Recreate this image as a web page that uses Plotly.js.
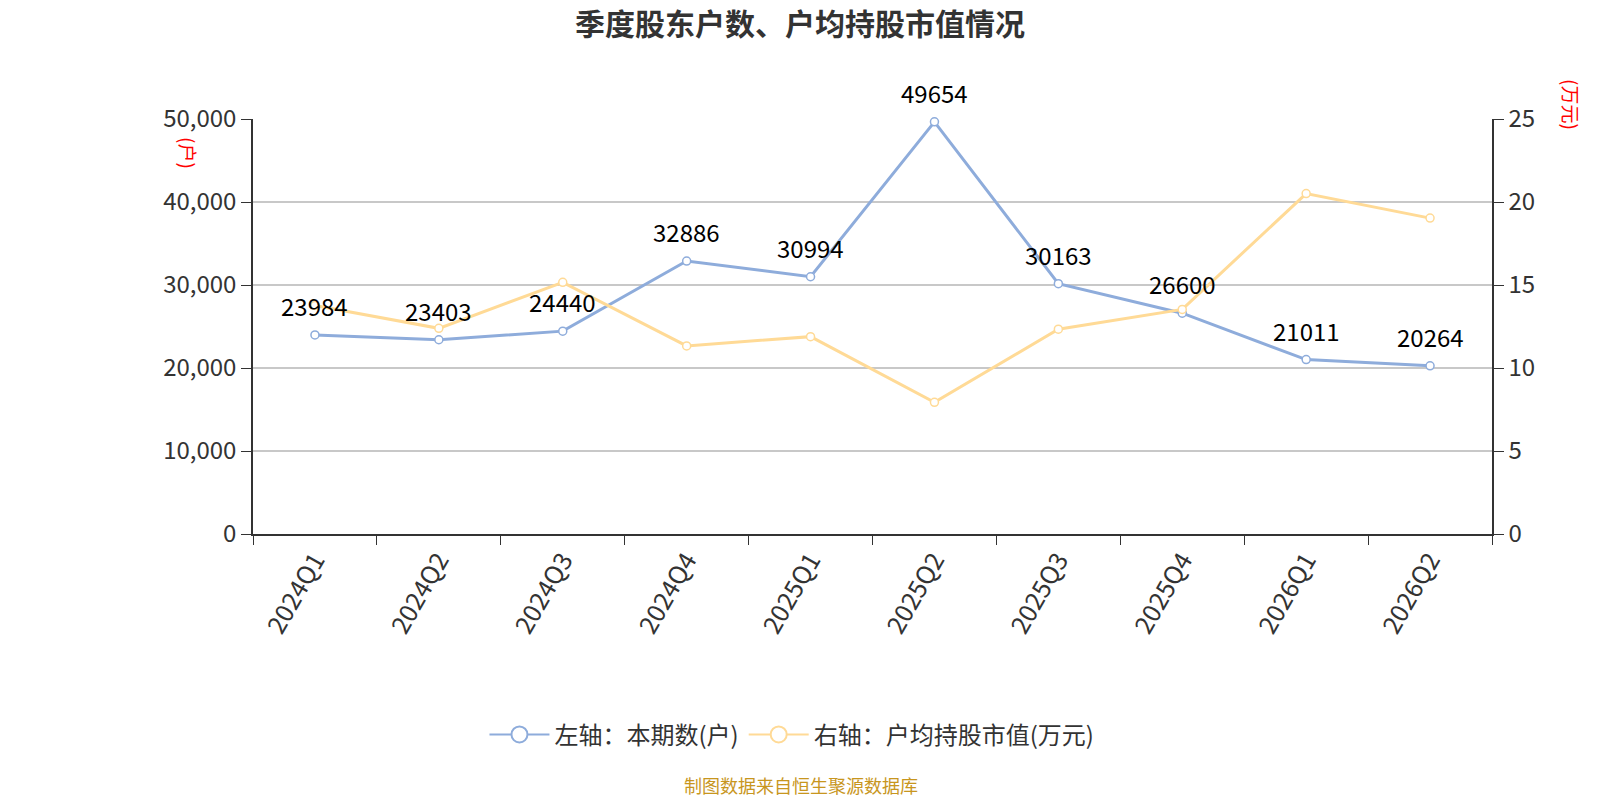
<!DOCTYPE html>
<html>
<head>
<meta charset="utf-8">
<script src="https://cdn.plot.ly/plotly-3.0.1.min.js"></script>
<style>
  html, body { margin: 0; padding: 0; background: #fff; }
  #chart { width: 1600px; height: 800px; }
</style>
</head>
<body>
<div id="chart"></div>
<script>
const quarters = ['2024Q1', '2024Q2', '2024Q3', '2024Q4', '2025Q1', '2025Q2', '2025Q3', '2025Q4', '2026Q1', '2026Q2'];
const holders = [23984, 23403, 24440, 32886, 30994, 49654, 30163, 26600, 21011, 20264];
const avgValue = [13.77, 12.39, 15.16, 11.33, 11.89, 7.93, 12.34, 13.53, 20.51, 19.03];

const font = '"Noto Sans CJK SC", "Noto Sans", sans-serif';
const blue = 'rgb(142,172,219)';
const yellow = 'rgb(255,218,150)';
const tickFont = { size: 24, color: '#333', family: font };

const traces = [
    {
        x: quarters,
        y: holders,
        name: '左轴：本期数(户)',
        type: 'scatter',
        mode: 'lines+markers',
        line: { color: blue, width: 3 },
        marker: { symbol: 'circle', size: 8, color: '#fff', line: { color: blue, width: 1.5 } },
        yaxis: 'y',
        showlegend: false,
        cliponaxis: false
    },
    {
        x: quarters,
        y: avgValue,
        name: '右轴：户均持股市值(万元)',
        type: 'scatter',
        mode: 'lines+markers',
        line: { color: yellow, width: 3 },
        marker: { symbol: 'circle', size: 8, color: '#fff', line: { color: yellow, width: 1.5 } },
        yaxis: 'y2',
        showlegend: false,
        cliponaxis: false
    },
    // legend entries with larger symbols
    {
        x: [null], y: [null],
        name: '左轴：本期数(户)',
        type: 'scatter',
        mode: 'lines+markers',
        line: { color: blue, width: 2 },
        marker: { symbol: 'circle', size: 16, color: '#fff', line: { color: blue, width: 2 } }
    },
    {
        x: [null], y: [null],
        name: '右轴：户均持股市值(万元)',
        type: 'scatter',
        mode: 'lines+markers',
        line: { color: yellow, width: 2 },
        marker: { symbol: 'circle', size: 16, color: '#fff', line: { color: yellow, width: 2 } },
        yaxis: 'y2'
    }
];

const labels = quarters.map((q, i) => ({
    x: q, y: holders[i], xref: 'x', yref: 'y',
    text: String(holders[i]),
    showarrow: false,
    xanchor: 'center', yanchor: 'bottom',
    yshift: 10,
    font: { size: 24, color: '#000', family: font }
}));

const layout = {
    width: 1600,
    height: 800,
    margin: { l: 253, r: 108, t: 119, b: 266 },
    paper_bgcolor: '#fff',
    plot_bgcolor: '#fff',
    font: { family: font, color: '#333' },
    title: {
        text: '<b>季度股东户数、户均持股市值情况</b>',
        font: { size: 30, color: '#333', family: font },
        x: 0.5, xanchor: 'center',
        y: 0.97, yanchor: 'middle'
    },
    showlegend: true,
    legend: {
        orientation: 'h',
        x: 0.435, xanchor: 'center',
        y: -0.484, yanchor: 'middle',
        font: { size: 24, color: '#333', family: font },
        itemsizing: 'trace',
        itemwidth: 60
    },
    xaxis: {
        type: 'category',
        range: [-0.5, 9.5],
        tickson: 'boundaries',
        ticks: 'outside',
        ticklen: 9,
        tickcolor: '#333',
        showline: true,
        linecolor: '#333',
        linewidth: 1.5,
        showgrid: false,
        tickangle: -60,
        tickfont: { size: 25, color: '#333', family: font }
    },
    yaxis: {
        range: [0, 50000],
        tickvals: [0, 10000, 20000, 30000, 40000, 50000],
        tickformat: ',d',
        ticks: 'outside',
        ticklen: 10,
        tickcolor: '#333',
        showline: true,
        linecolor: '#333',
        linewidth: 1.5,
        showgrid: true,
        gridcolor: '#c8c8c8',
        gridwidth: 1.5,
        zeroline: false,
        tickfont: tickFont
    },
    yaxis2: {
        overlaying: 'y',
        side: 'right',
        range: [0, 25],
        tickvals: [0, 5, 10, 15, 20, 25],
        ticks: 'outside',
        ticklen: 10,
        tickcolor: '#333',
        showline: true,
        linecolor: '#333',
        linewidth: 1.5,
        showgrid: false,
        zeroline: false,
        tickfont: tickFont
    },
    annotations: labels.concat([
        {
            text: '(户)', xref: 'paper', yref: 'paper',
            x: -0.0517, y: 0.918, xanchor: 'center', yanchor: 'middle',
            textangle: 90, showarrow: false,
            font: { size: 19, color: '#f00', family: font }
        },
        {
            text: '(万元)', xref: 'paper', yref: 'paper',
            x: 1.0637, y: 1.034, xanchor: 'center', yanchor: 'middle',
            textangle: 90, showarrow: false,
            font: { size: 19, color: '#f00', family: font }
        },
        {
            text: '制图数据来自恒生聚源数据库', xref: 'paper', yref: 'paper',
            x: 0.442, y: -0.605, xanchor: 'center', yanchor: 'middle',
            showarrow: false,
            font: { size: 18, color: '#c8961e', family: font }
        }
    ])
};

Plotly.newPlot('chart', traces, layout, { displayModeBar: false, responsive: false });
</script>
</body>
</html>
